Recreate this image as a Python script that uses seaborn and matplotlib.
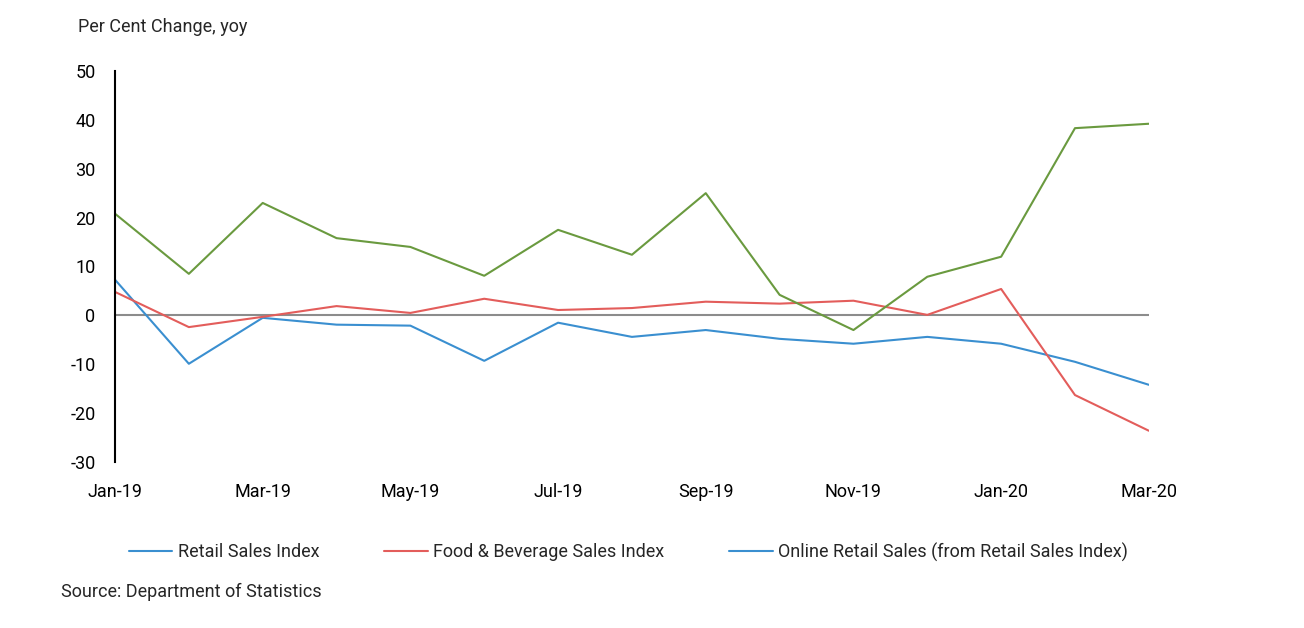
import pandas as pd
import numpy as np
import matplotlib.pyplot as plt
import seaborn as sns
from matplotlib.lines import Line2D

months = ['Jan-19', 'Feb-19', 'Mar-19', 'Apr-19', 'May-19', 'Jun-19', 'Jul-19', 'Aug-19',
          'Sep-19', 'Oct-19', 'Nov-19', 'Dec-19', 'Jan-20', 'Feb-20', 'Mar-20']
retail = [7.3, -9.9, -0.5, -1.9, -2.1, -9.3, -1.5, -4.4, -3.0, -4.8, -5.8, -4.4, -5.8, -9.5, -14.2]
food_bev = [4.8, -2.4, -0.3, 1.9, 0.5, 3.4, 1.1, 1.5, 2.8, 2.4, 3.0, 0.1, 5.4, -16.3, -23.6]
online = [20.8, 8.5, 23.0, 15.8, 14.0, 8.1, 17.5, 12.4, 25.0, 4.2, -3.0, 7.9, 12.0, 38.3, 39.2]
series_names = ['Retail Sales Index', 'Food & Beverage Sales Index',
                'Online Retail Sales (from Retail Sales Index)']

df = pd.DataFrame({'month': months, 'idx': range(len(months)),
                   series_names[0]: retail, series_names[1]: food_bev, series_names[2]: online})
long_df = df.melt(id_vars=['month', 'idx'], var_name='series', value_name='value')

sns.set_style('white')
plt.rcParams['font.family'] = ['Roboto', 'DejaVu Sans']
plt.rcParams['axes.unicode_minus'] = False

palette = {series_names[0]: '#3a8fd0', series_names[1]: '#e35d5b', series_names[2]: '#6a9a3f'}

fig = plt.figure(figsize=(13.04, 6.28), dpi=100)
ax = fig.add_axes([0.0882, 0.2643, 0.7928, 0.6227])
sns.lineplot(data=long_df, x='idx', y='value', hue='series', palette=palette,
             linewidth=1.5, ax=ax, legend=False)
ax.axhline(0, color='#8c8c8c', linewidth=1.5, zorder=0)

ax.set_xlim(0, len(months) - 1)
ax.set_ylim(-30, 50)
ax.set_yticks(range(-30, 51, 10))
ax.set_xticks(range(0, len(months), 2))
ax.set_xticklabels(months[::2])
ax.tick_params(axis='both', length=0, labelsize=13, colors='black')
ax.tick_params(axis='x', pad=15)
ax.tick_params(axis='y', pad=14)
ax.set_xlabel('')
ax.set_ylabel('')
for s in ['top', 'right', 'bottom']:
    ax.spines[s].set_visible(False)
ax.spines['left'].set_color('black')
ax.spines['left'].set_linewidth(1.5)

# legend colours as in the original (online entry shown in blue)
handles = [Line2D([0], [0], color='#3a8fd0', lw=1.5),
           Line2D([0], [0], color='#e35d5b', lw=1.5),
           Line2D([0], [0], color='#3a8fd0', lw=1.5)]
fig.legend(handles, series_names, loc='center', bbox_to_anchor=(0.482, 0.121), ncol=3,
           frameon=False, fontsize=13, handlelength=2.4, handletextpad=0.3, columnspacing=3.6)

fig.text(0.06, 0.957, 'Per Cent Change, yoy', fontsize=13, va='center', ha='left')
fig.text(0.047, 0.058, 'Source: Department of Statistics', fontsize=13, va='center', ha='left')

fig.savefig('out.png', dpi=100)
